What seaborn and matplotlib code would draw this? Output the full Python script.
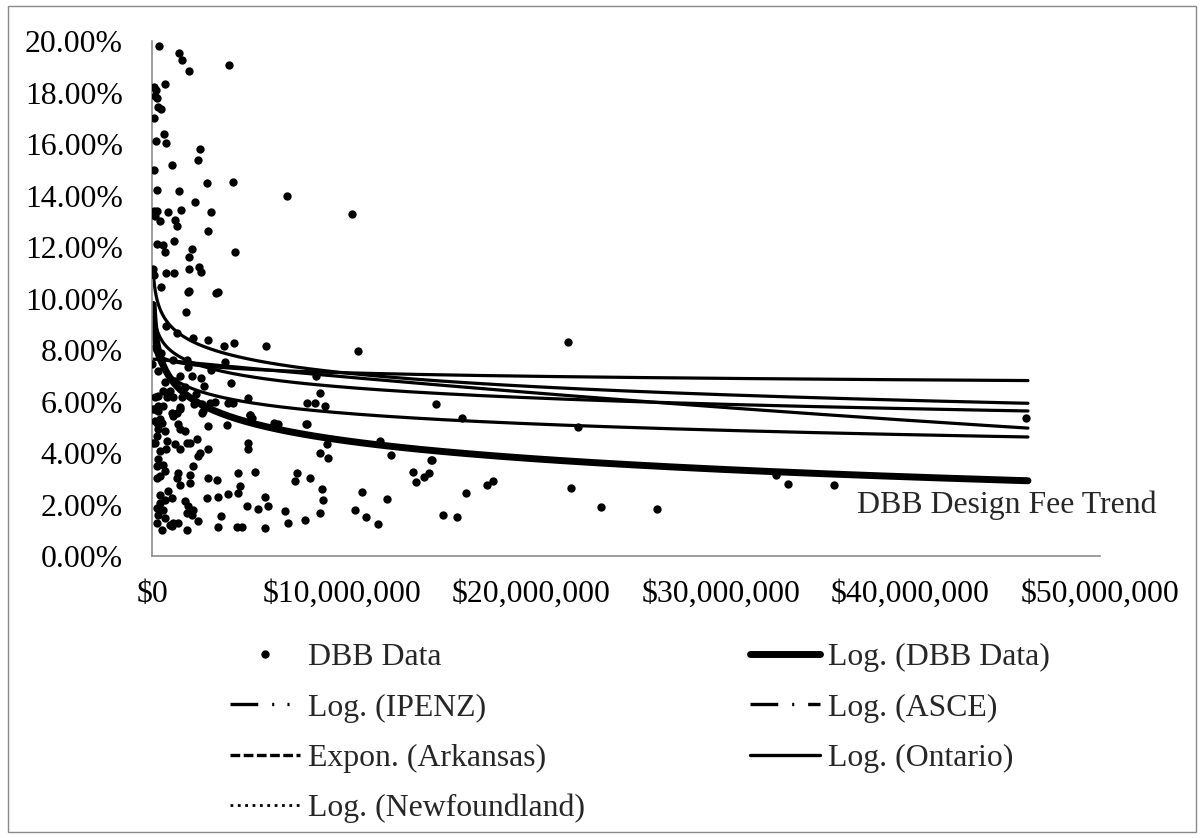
import numpy as np
import pandas as pd
import matplotlib
matplotlib.use("Agg")
import matplotlib.pyplot as plt
from matplotlib.lines import Line2D
from matplotlib.patches import Rectangle
from matplotlib.ticker import FuncFormatter
import seaborn as sns

# ---------------------------------------------------------------- data
# DBB projects: construction cost ($ millions) and design fee (% of cost)
dbb_cost_m = [
    0.35, 1.42, 1.57, 1.97, 4.08, 0.13, 0.22, 0.67, 0.18, 0.24, 0.32, 0.49, 0.11,
    0.65, 0.23, 0.72, 2.55, 2.41, 1.05, 0.11, 2.88, 4.27, 0.25, 1.42, 7.12, 2.28,
    0.11, 0.28, 0.16, 0.86, 1.53, 3.13, 10.56, 0.42, 1.20, 1.32, 2.95, 0.25, 0.58,
    1.17, 0.67, 2.09, 1.94, 4.40, 0.07, 0.12, 0.75, 1.14, 1.97, 2.46, 2.60, 0.47,
    1.92, 1.96, 3.38, 3.46, 1.79, 0.72, 1.30, 2.18, 2.95, 3.80, 4.32, 6.00, 10.88,
    0.02,
    1.92, 2.09, 2.60, 2.74, 3.09, 3.85, 4.17, 8.63, 8.86, 5.08, 2.71, 2.62, 5.17,
    5.26, 6.43, 6.66, 8.10, 0.69, 0.95, 1.74, 0.16, 0.33, 0.60, 0.77, 1.13, 1.57,
    0.33, 0.60, 1.04, 1.48, 0.16, 0.25, 0.42, 0.69, 0.25, 0.07, 0.50, 0.30, 1.10,
    1.50, 1.20, 1.83, 2.30, 3.30, 2.20,
    0.07, 0.33, 0.16, 0.51, 0.33, 0.16, 0.42, 0.77, 0.73, 1.13, 1.30, 1.48, 1.39,
    1.48, 1.74, 1.83, 2.00, 1.21, 1.48, 2.36, 2.53, 2.97, 2.97, 2.44, 0.33, 0.25,
    0.60, 0.69, 0.42, 0.25, 1.39, 1.30, 1.48, 2.00, 2.00, 2.18, 2.97, 3.41, 2.88,
    3.50, 4.03, 4.55, 4.64, 4.55, 5.43, 4.99, 5.61, 5.96, 6.13, 7.54, 7.63, 8.33,
    8.95, 9.04, 8.86, 7.00, 7.19, 8.07, 8.86, 9.30, 9.21, 8.16, 9.12, 8.60, 8.16,
    3.94, 5.08, 5.05, 5.17, 3.06, 2.62, 4.03, 4.29, 0.42, 0.86, 0.69, 1.04, 0.42,
    0.25, 0.60, 0.33, 0.69, 0.25, 0.51, 0.95, 1.13, 1.39, 1.04, 1.74, 1.92, 2.18,
    2.09, 1.83, 2.44, 1.83, 3.50, 3.64, 4.47, 4.76, 5.96, 10.71, 11.06, 11.27,
    11.94, 12.38, 12.60, 12.02,
    15.00, 16.33, 22.45, 21.93, 13.75, 13.92, 14.35, 14.63, 14.70, 14.75, 15.33,
    16.10, 16.58, 17.69, 18.00, 22.08, 23.66, 26.63, 32.90, 33.56, 35.97, 46.10,
]
dbb_fee_pct = [
    19.79, 19.53, 19.28, 18.85, 19.06, 18.20, 18.10, 18.33, 17.85, 17.80, 17.45, 17.36, 17.00,
    16.38, 16.12, 16.03, 15.79, 15.36, 15.18, 14.99, 14.47, 14.52, 14.21, 14.19, 13.98, 13.74,
    13.41, 13.41, 13.19, 13.35, 13.43, 13.35, 13.28, 13.00, 13.05, 12.83, 12.64, 12.12, 12.08,
    12.24, 11.80, 11.94, 11.60, 11.81, 11.14, 10.91, 10.98, 11.00, 11.16, 11.24, 11.02, 10.44,
    10.24, 10.30, 10.20, 10.27, 9.48, 8.92, 8.65, 8.48, 8.37, 8.16, 8.29, 8.16, 7.97,
    7.47,
    7.33, 7.00, 6.90, 6.61, 7.23, 7.53, 6.72, 6.99, 6.32, 6.12, 5.64, 5.57, 5.47,
    5.36, 5.16, 5.12, 5.11, 6.75, 6.42, 6.55, 6.16, 6.22, 6.42, 6.16, 6.16, 6.16,
    5.83, 5.83, 5.57, 5.77, 5.70, 5.18, 5.31, 4.86, 4.66, 4.40, 7.90, 7.20, 7.60,
    7.00, 6.80, 7.60, 6.30, 6.00, 5.90,
    5.70, 5.64, 5.25, 5.18, 4.92, 4.40, 4.08, 4.47, 4.14, 5.44, 5.57, 5.70, 5.12,
    4.92, 4.86, 4.40, 4.40, 4.34, 4.14, 4.53, 4.01, 5.05, 4.17, 3.88, 3.75, 3.49,
    3.55, 3.30, 3.10, 3.03, 3.23, 3.03, 2.77, 3.16, 2.84, 3.49, 3.03, 2.97, 2.25,
    2.29, 2.42, 3.23, 2.73, 2.45, 3.26, 1.95, 1.82, 2.29, 1.93, 2.90, 3.23, 3.03,
    2.60, 2.16, 1.67, 1.73, 1.30, 1.41, 4.01, 3.82, 4.34, 5.12, 5.83, 5.96, 5.94,
    5.08, 4.40, 4.14, 5.47, 5.94, 5.90, 5.94, 5.96, 2.38, 2.51, 2.19, 2.25, 2.06,
    1.86, 1.80, 1.60, 1.47, 1.28, 1.02, 1.21, 1.28, 1.28, 1.15, 2.12, 1.93, 1.80,
    1.60, 1.67, 1.34, 1.02, 1.11, 1.54, 1.11, 1.11, 1.08, 1.80, 2.47, 1.50,
    1.24, 2.23, 3.91, 4.47,
    5.89, 5.34, 5.01, 8.31, 3.27, 2.89, 3.05, 3.23, 3.71, 3.71, 1.60,
    1.52, 2.43, 2.76, 2.90, 2.63, 1.90, 1.81, 3.13, 2.81, 2.77, 5.34,
]

# Trendlines: logarithmic  y = a + b*ln(cost[$M]);  exponential  y = a*exp(b*cost[$M])
trend_names = ["Log. (DBB Data)", "Log. (IPENZ)", "Log. (ASCE)",
               "Expon. (Arkansas)", "Log. (Ontario)", "Log. (Newfoundland)"]
trend_kind = ["log", "log", "log", "exp", "log", "log"]
trend_a = [6.87, 8.92, 7.58, 7.65, 7.97, 6.96]
trend_b = [-1.03, -0.78, -0.20, -0.00935, -0.61, -0.61]
trend_range_m = [0.06, 46.2]

x_ticks_m = [0, 10, 20, 30, 40, 50]
y_ticks_pct = [0, 2, 4, 6, 8, 10, 12, 14, 16, 18, 20]

# ---------------------------------------------------------------- style
sns.set_style("white")
plt.rcParams["font.family"] = ["Liberation Serif", "DejaVu Serif"]
plt.rcParams["lines.scale_dashes"] = False
FS = 22.9
AXIS_GREY = "#8c8c8c"

fig = plt.figure(figsize=(12.04, 8.38), dpi=100)
W, H = 1204, 838
ax = fig.add_axes([152 / W, (H - 556) / H, (1100 - 152) / W, (556 - 41) / H])

# ---------------------------------------------------------------- trendlines
grid = np.geomspace(trend_range_m[0], trend_range_m[1], 400)
rows = []
for name, kind, a, b in zip(trend_names, trend_kind, trend_a, trend_b):
    y = a + b * np.log(grid) if kind == "log" else a * np.exp(b * grid)
    rows.append(pd.DataFrame({"cost": grid, "fee": y, "series": name}))
trend_df = pd.concat(rows, ignore_index=True)

for name in trend_names[1:]:
    sns.lineplot(data=trend_df[trend_df.series == name], x="cost", y="fee",
                 color="black", lw=2.3, ax=ax, estimator=None, sort=False,
                 solid_capstyle="round", legend=False)
sns.lineplot(data=trend_df[trend_df.series == trend_names[0]], x="cost", y="fee",
             color="black", lw=5.0, ax=ax, estimator=None, sort=False,
             solid_capstyle="round", legend=False)

# ---------------------------------------------------------------- scatter
pts = pd.DataFrame({"cost": dbb_cost_m, "fee": dbb_fee_pct})
sns.scatterplot(data=pts, x="cost", y="fee", color="black", s=36,
                linewidth=0, ax=ax, legend=False, zorder=3)

# ---------------------------------------------------------------- axes
ax.set_xlim(x_ticks_m[0], x_ticks_m[-1])
ax.set_ylim(y_ticks_pct[0], y_ticks_pct[-1])
ax.set_xticks(x_ticks_m)
ax.set_yticks(y_ticks_pct)
ax.xaxis.set_major_formatter(FuncFormatter(lambda v, p: f"${v * 1e6:,.0f}"))
ax.yaxis.set_major_formatter(FuncFormatter(lambda v, p: f"{v:.2f}%"))
ax.set_xlabel("")
ax.set_ylabel("")
ax.tick_params(axis="both", length=0, labelsize=FS, colors="black")
ax.tick_params(axis="y", pad=21)
ax.tick_params(axis="x", pad=17)
for side in ("top", "right"):
    ax.spines[side].set_visible(False)
for side in ("left", "bottom"):
    ax.spines[side].set_color(AXIS_GREY)
    ax.spines[side].set_linewidth(1.2)
ax.grid(False)

fig.text(857 / W, (H - 505) / H, "DBB Design Fee Trend", fontsize=FS,
         ha="left", va="center")

# ---------------------------------------------------------------- legend
k = dict(color="black")
h_data = Line2D([], [], marker="o", ms=5.0, lw=0, **k)
h_dbb = Line2D([], [], lw=5.0, solid_capstyle="round", **k)
h_ipenz = Line2D([], [], lw=2.4, ls=(0, (20, 10, 1.5, 9.5, 1.5, 9.5)), **k)
h_asce = Line2D([], [], lw=2.4, ls=(0, (20, 10, 1.5, 10)), **k)
h_ark = Line2D([], [], lw=2.4, ls=(0, (7, 2.5)), **k)
h_ont = Line2D([], [], lw=2.4, **k)
h_nf = Line2D([], [], lw=2.0, ls=(0, (2, 3.3)), **k)

handles = [h_data, h_ipenz, h_ark, h_nf, h_dbb, h_asce, h_ont]
labels = ["DBB Data", "Log. (IPENZ)", "Expon. (Arkansas)", "Log. (Newfoundland)",
          "Log. (DBB Data)", "Log. (ASCE)", "Log. (Ontario)"]
fig.legend(handles, labels, ncol=2, loc="upper left",
           bbox_to_anchor=(230 / W, (H - 643) / H), bbox_transform=fig.transFigure,
           frameon=False, fontsize=FS, handlelength=2.2, handletextpad=0.25,
           columnspacing=5.2, labelspacing=0.66, borderpad=0, borderaxespad=0,
           numpoints=1)

# outer chart border
fig.patches.append(Rectangle((8 / W, 6 / H), (1196 - 8) / W, (832 - 6) / H,
                             transform=fig.transFigure, fill=False,
                             edgecolor="#898989", lw=1.0))

fig.savefig("out.png", dpi=100)
